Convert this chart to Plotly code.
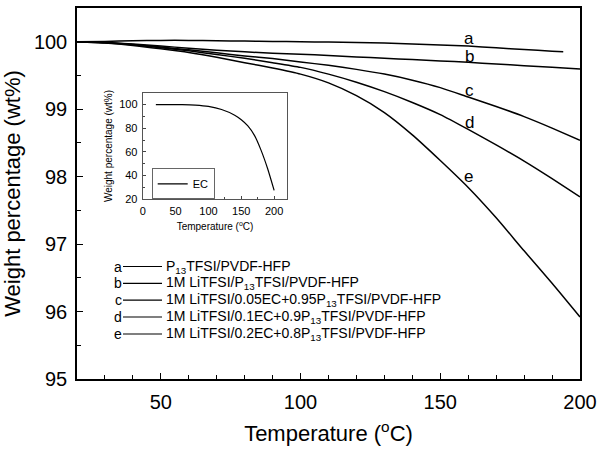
import plotly.graph_objects as go

# ---------------- data ----------------
temp = [20, 30, 40, 50, 60, 70, 80, 90, 100, 110, 120, 130, 140, 150, 160, 170, 180, 190, 200]
temp_a = [20, 30, 40, 50, 60, 70, 80, 90, 100, 110, 120, 130, 140, 150, 160, 170, 180, 190, 194]
wt_a = [100.0, 100.005, 100.015, 100.02, 100.02, 100.015, 100.01, 100.005, 100.0, 99.995, 99.99,
        99.98, 99.965, 99.95, 99.935, 99.91, 99.885, 99.86, 99.85]
wt_b = [100.0, 99.99, 99.965, 99.935, 99.905, 99.875, 99.85, 99.83, 99.815, 99.795, 99.775,
        99.755, 99.735, 99.715, 99.695, 99.67, 99.645, 99.62, 99.595]
wt_c = [100.0, 99.99, 99.96, 99.92, 99.88, 99.835, 99.79, 99.75, 99.70, 99.65, 99.59,
        99.52, 99.43, 99.32, 99.18, 99.04, 98.89, 98.72, 98.54]
wt_d = [100.0, 99.985, 99.955, 99.91, 99.865, 99.81, 99.755, 99.69, 99.62, 99.52, 99.40,
        99.26, 99.10, 98.92, 98.70, 98.47, 98.23, 97.97, 97.70]
wt_e = [100.0, 99.98, 99.945, 99.895, 99.84, 99.77, 99.69, 99.61, 99.52, 99.39, 99.20,
        98.95, 98.62, 98.24, 97.84, 97.39, 96.90, 96.42, 95.92]

series_keys = ["a", "b", "c", "d", "e"]
series_names = [
    "P<sub>13</sub>TFSI/PVDF-HFP",
    "1M LiTFSI/P<sub>13</sub>TFSI/PVDF-HFP",
    "1M LiTFSI/0.05EC+0.95P<sub>13</sub>TFSI/PVDF-HFP",
    "1M LiTFSI/0.1EC+0.9P<sub>13</sub>TFSI/PVDF-HFP",
    "1M LiTFSI/0.2EC+0.8P<sub>13</sub>TFSI/PVDF-HFP",
]
label_T = [160.4, 160.6, 160.4, 160.4, 160.2]
label_wt = [100.045, 99.78, 99.27, 98.80, 98.0]

ec_temp = [20, 40, 60, 80, 100, 120, 140, 150, 160, 170, 180, 190, 200]
ec_wt = [100, 100, 99.9, 99.5, 98.4, 95.8, 91.0, 87.2, 82.0, 74.0, 61.5, 46.0, 27.5]

x_ticks = [50, 100, 150, 200]
y_ticks = [95, 96, 97, 98, 99, 100]
inset_x_ticks = [0, 50, 100, 150, 200]
inset_y_ticks = [20, 40, 60, 80, 100]

# ---------------- figure ----------------
FONT = "Arial, 'Liberation Sans', sans-serif"
fig = go.Figure()

xs = [temp_a, temp, temp, temp, temp]
ys = [wt_a, wt_b, wt_c, wt_d, wt_e]
for k, n, x, y in zip(series_keys, series_names, xs, ys):
    fig.add_trace(go.Scatter(x=x, y=y, mode="lines", name=n,
                             line=dict(color="black", width=1.5, shape="spline", smoothing=0.6),
                             showlegend=False))

fig.add_trace(go.Scatter(x=ec_temp, y=ec_wt, mode="lines", name="EC", xaxis="x2", yaxis="y2",
                         line=dict(color="black", width=1.2, shape="spline", smoothing=0.6),
                         showlegend=True))

# curve labels
for k, tx, wy in zip(series_keys, label_T, label_wt):
    fig.add_annotation(x=tx, y=wy, text=k, showarrow=False, xref="x", yref="y",
                       font=dict(family=FONT, size=17, color="black"))

# custom main legend (letter, line sample, text)
W, H = 600, 457
L, R, T, B = 77, 20, 8, 78
pw, ph = W - L - R, H - T - B
def px(xp):
    return (xp - L) / pw
def py(yp):
    return (H - B - yp) / ph

row_y = [266.5, 283.3, 300.2, 317.0, 334.0]
for k, n, yy in zip(series_keys, series_names, row_y):
    fig.add_annotation(x=px(124), y=py(yy), xref="paper", yref="paper", text=k,
                       showarrow=False, xanchor="right", yanchor="middle",
                       font=dict(family=FONT, size=14, color="black"))
    fig.add_shape(type="line", xref="paper", yref="paper", x0=px(123), x1=px(162),
                  y0=py(yy), y1=py(yy), line=dict(color="black", width=1.2))
    fig.add_annotation(x=px(164), y=py(yy), xref="paper", yref="paper", text=n,
                       showarrow=False, xanchor="left", yanchor="middle",
                       font=dict(family=FONT, size=14, color="black"))

axis_common = dict(showline=True, linecolor="black", linewidth=1.5, mirror=True,
                   ticks="inside", tickcolor="black", showgrid=False, zeroline=False,
                   automargin=False)

fig.update_layout(
    width=W, height=H,
    margin=dict(l=L, r=R, t=T, b=B),
    paper_bgcolor="white", plot_bgcolor="white",
    font=dict(family=FONT, color="black"),
    xaxis=dict(range=[20, 200], tickvals=x_ticks, ticklen=6, tickwidth=1.2,
               minor=dict(dtick=10, tick0=0, ticklen=4, ticks="inside", tickcolor="black"),
               tickfont=dict(size=20), ticklabelstandoff=4,
               title=dict(text="Temperature (<sup>o</sup>C)", font=dict(size=22), standoff=14),
               **axis_common),
    yaxis=dict(range=[95, 100.5], tickvals=y_ticks, ticklen=6, tickwidth=1.2,
               minor=dict(dtick=0.5, tick0=95, ticklen=4, ticks="inside", tickcolor="black"),
               tickfont=dict(size=20), ticklabelstandoff=4,
               title=dict(text="Weight percentage (wt%)", font=dict(size=22), standoff=8),
               **axis_common),
    xaxis2=dict(domain=[px(142.7), px(287.3)], anchor="y2", range=[0, 220],
                tickvals=inset_x_ticks, ticklen=3,
                minor=dict(dtick=25, tick0=0, ticklen=2, ticks="inside", tickcolor="#444"),
                tickfont=dict(size=11), ticklabelstandoff=1,
                title=dict(text="Temperature (<sup>o</sup>C)", font=dict(size=10), standoff=7),
                showline=True, linecolor="#555", linewidth=1, mirror=True, automargin=False,
                ticks="inside", tickcolor="#444", showgrid=False, zeroline=False),
    yaxis2=dict(domain=[py(199.3), py(92.7)], anchor="x2", range=[20, 110],
                tickvals=inset_y_ticks, ticklen=3,
                minor=dict(dtick=10, tick0=0, ticklen=2, ticks="inside", tickcolor="#444"),
                tickfont=dict(size=11), ticklabelstandoff=2,
                title=dict(text="Weight percentage (wt%)", font=dict(size=10), standoff=4),
                showline=True, linecolor="#555", linewidth=1, mirror=True, automargin=False,
                ticks="inside", tickcolor="#444", showgrid=False, zeroline=False),
    showlegend=True,
    legend=dict(x=px(151.7), y=py(168.3), xanchor="left", yanchor="top",
                bgcolor="white", bordercolor="#666", borderwidth=1,
                font=dict(family=FONT, size=11, color="black")),
)

fig.write_html("out.html", config={"displayModeBar": False},
               post_script="document.body.style.margin='0px';")
